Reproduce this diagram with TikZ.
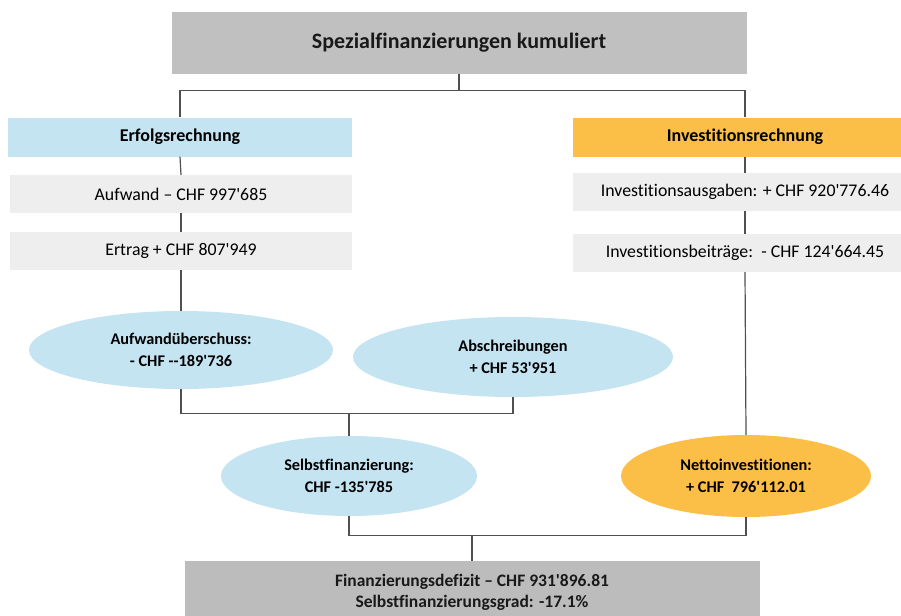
\documentclass[tikz,border=0pt]{standalone}
\usepackage{fontspec}
\setmainfont{Carlito}[Ligatures={TeXReset,NoCommon}]
\usetikzlibrary{positioning, shapes.geometric}
\definecolor{titlegray}{HTML}{C0C0C0}
\definecolor{itemgray}{HTML}{EEEEEE}
\definecolor{erfblue}{HTML}{C5E4F2}
\definecolor{invorange}{HTML}{FBBF47}
\definecolor{linegray}{HTML}{505050}
\begin{document}
\begin{tikzpicture}[x=1pt,y=-1pt,
  conn/.style={draw=linegray,line width=1.2pt},
  titlebox/.style={fill=titlegray,minimum width=575pt,minimum height=62pt,inner sep=0pt,align=center,text=black!90},
  headbox/.style={minimum width=344pt,minimum height=39pt,inner sep=0pt,font=\bfseries\fontsize{18}{21}\selectfont},
  itembox/.style={fill=itemgray,minimum width=344pt,minimum height=38pt,inner sep=0pt,font=\fontsize{17.8}{21}\selectfont},
  sumell/.style={ellipse,inner sep=0pt,align=center,font=\bfseries\fontsize{16.3}{22}\selectfont}]
\clip (0,0) rectangle (901,615);
% oben
\node[titlebox,font=\bfseries\fontsize{22}{26}\selectfont] (title) at (459,43) {Spezialfinanzierungen kumuliert};
\node[headbox,fill=erfblue] (erf) at (180,137) {Erfolgsrechnung};
\node[headbox,fill=invorange] (inv) at (745,137) {Investitionsrechnung};
% links
\node[itembox,minimum width=342pt] (aufw) at (181,194) {Aufwand – CHF 997'685};
\node[itembox,minimum width=342pt] (ertr) at (181,251) {Ertrag + CHF 807'949};
% rechts
\node[itembox] (ausg) at (745,192) {Investitionsausgaben: + CHF 920'776.46};
\node[itembox] (beit) at (745,253) {Investitionsbeiträge: \,- CHF 124'664.45};
% Ellipsen
\node[sumell,fill=erfblue,minimum width=304pt,minimum height=78pt] (ueber) at (181,350) {Aufwandüberschuss:\\- CHF --189'736};
\node[sumell,fill=erfblue,minimum width=320pt,minimum height=80pt] (abschr) at (513,357) {Abschreibungen\\+ CHF 53'951};
\node[sumell,fill=erfblue,minimum width=256pt,minimum height=80pt] (selbst) at (349,476) {Selbstfinanzierung:\\CHF -135'785};
\node[sumell,fill=invorange,minimum width=250pt,minimum height=82pt] (netto) at (746,476) {Nettoinvestitionen:\\+ CHF \ 796'112.01};
% unten
\node[titlebox,fill=titlegray!98!black,font=\bfseries\fontsize{17.5}{21}\selectfont] (fin) at (472,592) {Finanzierungsdefizit – CHF 931'896.81\\Selbstfinanzierungsgrad: -17.1\%};
% Verbindungen
\draw[conn] (title.south) -- ++(0,16) coordinate (tj);
\draw[conn] (erf.north) |- (tj) -| (inv.north);
\draw[conn] (erf.south) -- (aufw.north);
\draw[conn] (aufw.south) -- (ertr.north);
\draw[conn] (ertr.south) -- (ueber.north);
\draw[conn] (inv.south) -- (ausg.north);
\draw[conn] (ausg.south) -- (beit.north);
\draw[conn] (beit.south) -- (netto.north);
\draw[conn] (ueber.south) -- ++(0,24) coordinate (uj) -| (abschr.south);
\draw[conn] (selbst.north) -- (selbst.north |- uj);
\draw[conn] (selbst.south) -- ++(0,19) coordinate (sj) -| (netto.south);
\draw[conn] (fin.north) -- (fin.north |- sj);
\end{tikzpicture}
\end{document}
